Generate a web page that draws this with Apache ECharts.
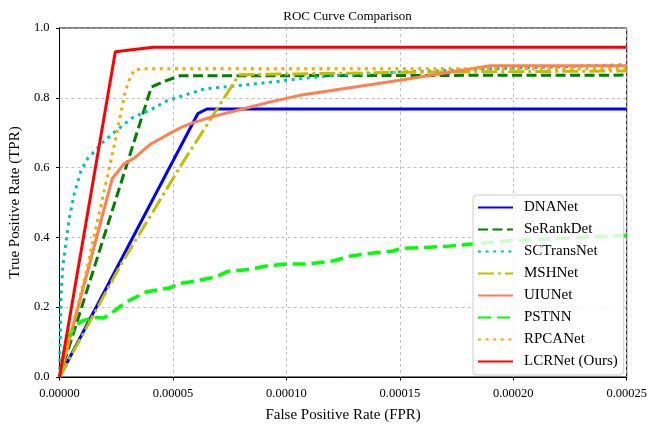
<!DOCTYPE html>
<html>
<head>
<meta charset="utf-8">
<script src="https://cdn.jsdelivr.net/npm/echarts@6/dist/echarts.min.js"></script>
<style>html,body{margin:0;padding:0;background:#fff}#c{width:650px;height:428px}</style>
</head>
<body>
<div id="c"></div>
<script>
// FPR values (x) and TPR values (y) for each model
const xTicks = [0, 0.00005, 0.00010, 0.00015, 0.00020, 0.00025];
const yTicks = [0.0, 0.2, 0.4, 0.6, 0.8, 1.0];

const dnanetFpr = [0, 6.1e-5, 6.5e-5, 25e-5];
const dnanetTpr = [0, 0.755, 0.768, 0.768];

const serankFpr = [0, 4.05e-5, 4.57e-5, 5.3e-5, 25e-5];
const serankTpr = [0, 0.831, 0.846, 0.863, 0.865];

const sctransFpr = [0, 0.07e-5, 0.14e-5, 0.29e-5, 0.43e-5, 0.65e-5, 0.94e-5, 1.23e-5, 1.45e-5, 1.88e-5, 2.39e-5, 3.19e-5, 3.99e-5, 4.78e-5, 5.29e-5, 6.43e-5, 7.9e-5, 9.35e-5, 10.5e-5, 12.1e-5, 15e-5, 20e-5, 25e-5];
const sctransTpr = [0, 0.24, 0.31, 0.39, 0.455, 0.525, 0.59, 0.625, 0.64, 0.671, 0.70, 0.742, 0.765, 0.793, 0.803, 0.826, 0.835, 0.845, 0.854, 0.864, 0.874, 0.885, 0.895];

const mshnetFpr = [0, 2.68e-5, 5.35e-5, 7.91e-5, 15e-5, 25e-5];
const mshnetTpr = [0, 0.319, 0.606, 0.866, 0.873, 0.877];

const uiunetFpr = [0, 2.32e-5, 2.83e-5, 3.33e-5, 3.99e-5, 4.78e-5, 5.36e-5, 5.87e-5, 6.74e-5, 7.9e-5, 9.35e-5, 10.6e-5, 15e-5, 19e-5, 25e-5];
const uiunetTpr = [0, 0.568, 0.61, 0.629, 0.666, 0.695, 0.715, 0.728, 0.746, 0.765, 0.789, 0.807, 0.85, 0.892, 0.892];

const pstnnFpr = [0, 0.29e-5, 0.65e-5, 0.94e-5, 1.52e-5, 1.96e-5, 2.39e-5, 2.97e-5, 3.84e-5, 4.86e-5, 5.29e-5, 5.73e-5, 6.6e-5, 6.88e-5, 7.39e-5, 8.33e-5, 9.2e-5, 10e-5, 10.94e-5, 12.1e-5, 12.83e-5, 13.84e-5, 14.71e-5, 15e-5, 16.16e-5, 17.17e-5, 19.64e-5, 25e-5];
const pstnnTpr = [0, 0.103, 0.141, 0.159, 0.171, 0.169, 0.188, 0.216, 0.244, 0.255, 0.268, 0.272, 0.283, 0.286, 0.302, 0.308, 0.319, 0.324, 0.324, 0.333, 0.347, 0.355, 0.361, 0.368, 0.371, 0.375, 0.39, 0.406];

const rpcaFpr = [0, 1.16e-5, 2.39e-5, 2.9e-5, 3.09e-5, 3.3e-5, 3.7e-5, 25e-5];
const rpcaTpr = [0, 0.296, 0.657, 0.818, 0.854, 0.88, 0.883, 0.883];

const lcrFpr = [0, 2.46e-5, 4.13e-5, 25e-5];
const lcrTpr = [0, 0.932, 0.945, 0.945];

const names = ['DNANet', 'SeRankDet', 'SCTransNet', 'MSHNet', 'UIUNet', 'PSTNN', 'RPCANet', 'LCRNet (Ours)'];
const xs = [dnanetFpr, serankFpr, sctransFpr, mshnetFpr, uiunetFpr, pstnnFpr, rpcaFpr, lcrFpr];
const ys = [dnanetTpr, serankTpr, sctransTpr, mshnetTpr, uiunetTpr, pstnnTpr, rpcaTpr, lcrTpr];

const styles = [
  {color: '#0000ff', width: 3, type: 'solid'},
  {color: '#008000', width: 3, type: [10, 4.5]},
  {color: '#00bfbf', width: 3, type: [3, 4.6]},
  {color: '#bfbf00', width: 3, type: [16, 4, 3, 4]},
  {color: '#ff7f50', width: 3, type: 'solid'},
  {color: '#00ff00', width: 3.5, type: [13, 6]},
  {color: '#ffa500', width: 3, type: [3, 4.6]},
  {color: '#ff0000', width: 3, type: 'solid'}
];

const FONT = '"Liberation Serif", "Times New Roman", serif';

const series = names.map((n, i) => ({
  name: n,
  type: 'line',
  symbol: 'none',
  data: xs[i].map((x, j) => [x, ys[i][j]]),
  lineStyle: {color: styles[i].color, width: styles[i].width, type: styles[i].type, cap: 'butt'},
  itemStyle: {color: styles[i].color},
  z: 2 + i,
  animation: false
}));

const chart = echarts.init(document.getElementById('c'), null, {renderer: 'canvas'});
chart.setOption({
  backgroundColor: '#ffffff',
  animation: false,
  textStyle: {fontFamily: FONT},
  title: {
    text: 'ROC Curve Comparison',
    left: 342.5, top: 5, textAlign: 'center',
    textStyle: {fontFamily: FONT, fontSize: 13, fontWeight: 'normal', color: '#000'}
  },
  grid: {left: 55, right: 20, top: 28, bottom: 45, show: true, borderColor: '#000', borderWidth: 1, backgroundColor: 'transparent'},
  xAxis: {
    type: 'value', min: xTicks[0], max: xTicks[xTicks.length - 1], interval: 0.00005,
    name: 'False Positive Rate (FPR)', nameLocation: 'middle', nameGap: 31,
    nameTextStyle: {fontFamily: FONT, fontSize: 15, color: '#000'},
    axisLine: {show: true, onZero: false, lineStyle: {color: '#000', width: 1}},
    axisTick: {show: true, inside: false, length: 3.5, lineStyle: {color: '#000'}},
    axisLabel: {fontFamily: FONT, fontSize: 12.5, color: '#000', margin: 10, formatter: v => v.toFixed(5)},
    splitLine: {show: true, lineStyle: {color: '#b0b0b0', type: [3, 3], width: 0.8}}
  },
  yAxis: {
    type: 'value', min: yTicks[0], max: yTicks[yTicks.length - 1], interval: 0.2,
    name: 'True Positive Rate (TPR)', nameLocation: 'middle', nameGap: 33,
    nameTextStyle: {fontFamily: FONT, fontSize: 15, color: '#000'},
    axisLine: {show: true, onZero: false, lineStyle: {color: '#000', width: 1}},
    axisTick: {show: true, inside: false, length: 3.5, lineStyle: {color: '#000'}},
    axisLabel: {fontFamily: FONT, fontSize: 12.5, color: '#000', margin: 10, formatter: v => v.toFixed(1)},
    splitLine: {show: true, lineStyle: {color: '#b0b0b0', type: [3, 3], width: 0.8}}
  },
  legend: {
    data: names,
    orient: 'vertical',
    left: 473, top: 195,
    padding: [5, 6, 6, 4],
    itemWidth: 35, itemHeight: 14, itemGap: 7,
    itemStyle: {opacity: 0},
    backgroundColor: 'rgba(255,255,255,0.8)',
    borderColor: '#cccccc', borderWidth: 1, borderRadius: 4,
    textStyle: {fontFamily: FONT, fontSize: 15, color: '#000', lineHeight: 14, padding: [0, 0, 0, 6]},
    z: 20
  },
  series: series
});
</script>
</body>
</html>
